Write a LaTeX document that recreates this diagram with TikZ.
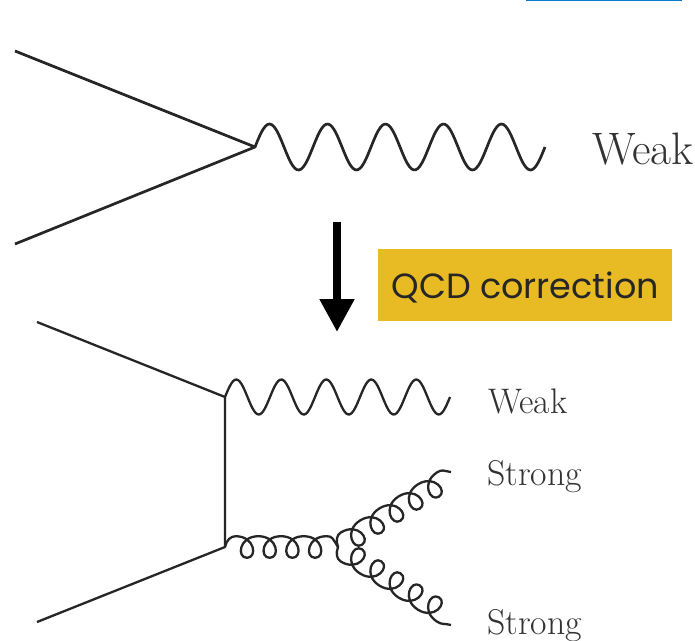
\documentclass[tikz,border=0pt]{standalone}
\usepackage{fontspec}
\newfontfamily\qcdfont{Poppins}
\usetikzlibrary{arrows.meta}
\definecolor{ink}{HTML}{262626}
\definecolor{lab}{HTML}{333333}
\definecolor{gold}{HTML}{E8BA24}
\definecolor{rulebl}{HTML}{0A7BD0}
\tikzset{
  fermionbig/.style={draw=ink,line width=2.7pt,line join=round},
  fermion/.style={draw=ink,line width=2.3pt,line join=round},
  lbl/.style={anchor=base west,inner sep=0pt,text=lab},
}
% \gluonline{start}{end}{n loops}{first loop u}{angle}{side}
\newcommand{\gluonline}[6]{%
  \begin{scope}[shift={(#1)},rotate=#5,yscale=#6]
  \pgfmathsetmacro{\gP}{22.7}
  \pgfmathsetmacro{\gA}{10.8}
  \pgfmathsetmacro{\gM}{#4}
  \pgfmathtruncatemacro{\gN}{#3-1}
  \pgfmathsetmacro{\gUa}{\gM-\gP/2}
  \pgfmathsetmacro{\gUb}{\gM+\gP*\gN+\gP/2}
  \draw[draw=ink,line width=2.3pt,line join=round]
    (#1) .. controls (1.5,-7) and (\gUa-5,-\gA) .. (\gUa,-\gA)
    \foreach \k in {0,...,\gN} {
      .. controls ({\gM+\gP*\k-\gP/2+19.5},-\gA) and ({\gM+\gP*\k+10.5},\gA) .. ({\gM+\gP*\k},\gA)
      .. controls ({\gM+\gP*\k-10.5},\gA) and ({\gM+\gP*\k+\gP/2-19.5},-\gA) .. ({\gM+\gP*\k+\gP/2},-\gA)
    }
    .. controls (\gUb+6,-\gA) and (\gUb+6,-\gA+2) .. (#2);
  \end{scope}}
\begin{document}
\begin{tikzpicture}[x=1pt,y=-1pt]
\useasboundingbox (0,0) rectangle (695,640);
\fill[white] (0,0) rectangle (695,640);
\fill[rulebl] (526,0) rectangle (682,1.3);
% upper diagram
\coordinate (a1) at (15,51);
\coordinate (a2) at (15,244);
\coordinate (av) at (255,147);
\draw[fermionbig] (a1) -- (av) -- (a2);
\draw[fermionbig,shift={(av)}] plot[domain=0:290,samples=140,smooth] (\x,{-23*sin(\x/58*360)});
\node[lbl,font=\fontsize{45.5}{45.5}\selectfont] (weakA) at (592,164) {Weak};
% arrow
\coordinate (ar1) at (337,221.5);
\coordinate (ar2) at (337,332);
\draw[line width=8pt,black,-{Triangle[width=33pt,length=33pt]}] (ar1) -- (ar2);
\node[fill=gold,minimum width=294pt,minimum height=72pt,inner sep=0pt,anchor=north west,text=ink,text height=49.5pt,text depth=22.5pt,font=\qcdfont\fontsize{35}{35}\selectfont] (qcd) at (378,249) {QCD correction};
% lower diagram
\coordinate (b1) at (37,322);
\coordinate (b2) at (37,622);
\coordinate (bu) at (225,397);
\coordinate (bd) at (225,547);
\coordinate (bg) at (338,547);
\coordinate (ge1) at (451,472);
\coordinate (ge2) at (451,625);
\draw[fermion] (b1) -- (bu) -- (bd) -- (b2);
\draw[fermion,shift={(bu)}] plot[domain=0:225,samples=140,smooth] (\x,{-17.5*sin(\x/45*360)});
\gluonline{bd}{bg}{4}{22}{0}{1}
\gluonline{bg}{ge1}{5}{21.5}{32}{1}
\gluonline{bg}{ge2}{5}{21.5}{-32}{-1}
\node[lbl,font=\fontsize{35.5}{35.5}\selectfont] (weakB) at (488,413) {Weak};
\node[lbl,font=\fontsize{35.8}{35.8}\selectfont] (strongA) at (487,485) {Strong};
\node[lbl,font=\fontsize{35.8}{35.8}\selectfont] (strongB) at (487,634) {Strong};
\end{tikzpicture}
\end{document}
